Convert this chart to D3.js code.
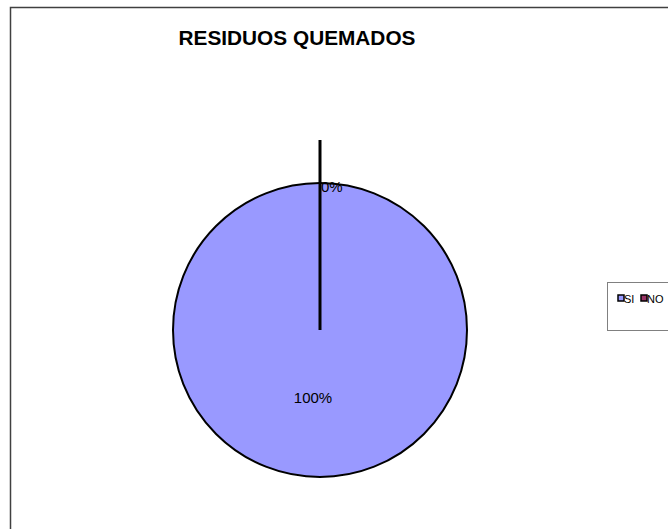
<!DOCTYPE html>
<html><head><meta charset="utf-8">
<script src="https://cdn.jsdelivr.net/npm/d3@7"></script>
<style>body{margin:0;background:#fff}svg{display:block}text{font-family:"Liberation Sans",Arial,sans-serif}</style>
</head><body>
<svg id="c" width="668" height="529"></svg>
<script>
const categories = ["SI", "NO"];
const values = [100, 0];
const labels = ["100%", "0%"];
const colors = ["#9999FF", "#993366"];

const svg = d3.select("#c");
// outer chart border
svg.append("rect").attr("x", 10.5).attr("y", 7.5).attr("width", 700).attr("height", 600)
  .attr("fill", "#fff").attr("stroke", "#404040").attr("stroke-width", 1.5);

svg.append("text").attr("x", 297).attr("y", 45).attr("text-anchor", "middle")
  .attr("font-weight", "bold").attr("font-size", 20.8).text("RESIDUOS QUEMADOS");

const cx = 320, cy = 330, r = 147;
const pie = d3.pie().sort(null).startAngle(0).endAngle(2 * Math.PI);
const arcs = pie(values);
const arc = d3.arc().innerRadius(0).outerRadius(r);
const g = svg.append("g").attr("transform", `translate(${cx},${cy})`);
g.selectAll("path").data(arcs).enter().append("path")
  .attr("d", arc).attr("fill", (d, i) => colors[i])
  .attr("stroke", "#000").attr("stroke-width", 2);

// zero-size slice drawn as exploded line
arcs.forEach((d, i) => {
  if (d.endAngle - d.startAngle === 0) {
    const a = d.startAngle;
    g.append("line").attr("x1", 0).attr("y1", 0)
      .attr("x2", Math.sin(a) * (r + 43)).attr("y2", -Math.cos(a) * (r + 43))
      .attr("stroke", "#000").attr("stroke-width", 3);
  }
});

// labels
const lab = d3.arc().innerRadius(r * 0.47).outerRadius(r * 0.47);
arcs.forEach((d, i) => {
  if (values[i] > 0) {
    const c = lab.centroid(d);
    g.append("text").attr("x", c[0] - 7).attr("y", c[1] + 4).attr("text-anchor", "middle")
      .attr("font-size", 15).text(labels[i]);
  } else {
    g.append("text").attr("x", 1).attr("y", -r + 9).attr("text-anchor", "start")
      .attr("font-size", 15).text(labels[i]);
  }
});

// legend
svg.append("rect").attr("x", 607.5).attr("y", 282.5).attr("width", 100).attr("height", 48)
  .attr("fill", "#fff").attr("stroke", "#808080").attr("stroke-width", 1);
const lx = d3.scalePoint().domain(categories).range([618, 641]);
const lg = svg.selectAll("g.leg").data(categories).enter().append("g").attr("class", "leg")
  .attr("transform", d => `translate(${lx(d)},295)`);
lg.append("rect").attr("x", 0).attr("y", 0).attr("width", 6).attr("height", 6)
  .attr("fill", (d, i) => colors[i]).attr("stroke", "#000").attr("stroke-width", 1.5);
lg.append("text").attr("x", 6).attr("y", 7.5).attr("font-size", 11).text(d => d);
</script>
</body></html>
